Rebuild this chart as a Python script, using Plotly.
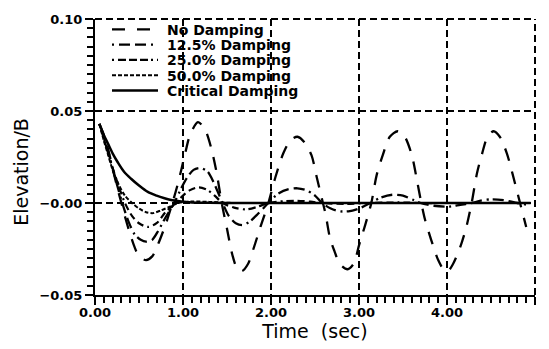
import plotly.graph_objects as go

# ---- data ----
t_none = [0.05, 0.10, 0.15, 0.20, 0.25, 0.30, 0.35, 0.40, 0.45, 0.50, 0.58, 0.65, 0.72, 0.80, 0.88,
          0.95, 1.02, 1.08, 1.17, 1.25, 1.32, 1.38, 1.44, 1.50, 1.56, 1.61, 1.67, 1.74, 1.80, 1.88,
          1.97, 2.05, 2.14, 2.22, 2.30, 2.38, 2.46, 2.52, 2.58, 2.62, 2.67, 2.72, 2.78, 2.87, 2.94,
          3.00, 3.07, 3.14, 3.20, 3.27, 3.35, 3.44, 3.52, 3.60, 3.66, 3.70, 3.75, 3.82, 3.90, 3.96,
          4.01, 4.07, 4.15, 4.22, 4.28, 4.34, 4.40, 4.46, 4.53, 4.60, 4.68, 4.76, 4.83, 4.90]
y_none = [0.043, 0.037, 0.029, 0.019, 0.009, 0.000, -0.009, -0.017, -0.024, -0.029, -0.031, -0.029, -0.022, -0.012, 0.000,
          0.012, 0.026, 0.037, 0.044, 0.040, 0.030, 0.017, 0.000, -0.014, -0.028, -0.035, -0.037, -0.033, -0.025, -0.013,
          0.000, 0.014, 0.027, 0.034, 0.036, 0.033, 0.026, 0.014, 0.002, -0.006, -0.019, -0.026, -0.033, -0.036, -0.033,
          -0.023, -0.012, 0.000, 0.015, 0.026, 0.036, 0.039, 0.036, 0.026, 0.012, 0.002, -0.009, -0.020, -0.031, -0.036,
          -0.037, -0.033, -0.024, -0.013, 0.000, 0.016, 0.027, 0.036, 0.039, 0.036, 0.027, 0.013, 0.000, -0.013]

t_125 = [0.05, 0.10, 0.15, 0.20, 0.25, 0.31, 0.38, 0.45, 0.52, 0.58, 0.65, 0.72, 0.80, 0.90, 0.98,
         1.05, 1.12, 1.20, 1.28, 1.35, 1.45, 1.52, 1.60, 1.68, 1.76, 1.85, 1.97, 2.08, 2.20, 2.30,
         2.40, 2.50, 2.58, 2.68, 2.78, 2.88, 3.00, 3.13, 3.25, 3.38, 3.50, 3.60, 3.70, 3.85, 4.00,
         4.15, 4.28, 4.40, 4.52, 4.65, 4.80, 4.92]
y_125 = [0.043, 0.036, 0.028, 0.019, 0.010, 0.000, -0.010, -0.017, -0.020, -0.021, -0.020, -0.015, -0.008, 0.000, 0.008,
         0.014, 0.018, 0.019, 0.017, 0.011, 0.000, -0.007, -0.011, -0.012, -0.010, -0.006, 0.000, 0.005, 0.0075, 0.008,
         0.007, 0.004, 0.000, -0.003, -0.0045, -0.0045, -0.003, 0.000, 0.003, 0.0045, 0.004, 0.002, 0.000, -0.0015, -0.002,
         -0.001, 0.000, 0.0015, 0.002, 0.0015, 0.000, -0.001]

t_25 = [0.05, 0.10, 0.15, 0.20, 0.27, 0.34, 0.42, 0.50, 0.60, 0.70, 0.80, 0.92, 1.00, 1.08, 1.18,
        1.28, 1.36, 1.45, 1.58, 1.72, 1.85, 1.97, 2.15, 2.30, 2.45, 2.58, 2.85, 3.13, 3.45, 3.70,
        4.00, 4.50, 4.92]
y_25 = [0.043, 0.035, 0.027, 0.019, 0.009, 0.000, -0.007, -0.011, -0.013, -0.011, -0.005, 0.000, 0.004, 0.007, 0.0085,
        0.007, 0.004, 0.000, -0.0025, -0.0035, -0.002, 0.000, 0.001, 0.0012, 0.0007, 0.000, -0.0005, 0.000, 0.0003, 0.000,
        0.000, 0.000, 0.000]

t_50 = [0.05, 0.10, 0.15, 0.20, 0.27, 0.34, 0.42, 0.50, 0.58, 0.66, 0.75, 0.85, 0.95, 1.10, 1.30,
        1.60, 2.00, 3.00, 4.00, 4.92]
y_50 = [0.043, 0.034, 0.026, 0.018, 0.010, 0.004, 0.000, -0.003, -0.005, -0.0055, -0.004, -0.002, 0.000, 0.0008, 0.0006,
        0.000, 0.000, 0.000, 0.000, 0.000]

t_crit = [0.05, 0.10, 0.15, 0.20, 0.26, 0.33, 0.41, 0.50, 0.60, 0.70, 0.79, 0.88, 0.98, 1.10, 1.30,
          1.60, 2.50, 3.50, 4.50, 4.95]
y_crit = [0.043, 0.037, 0.032, 0.027, 0.022, 0.017, 0.0132, 0.0095, 0.006, 0.004, 0.0026, 0.0015, 0.0008, 0.0003, 0.0001,
          0.000, 0.000, 0.000, 0.000, 0.000]

series_names = ["No Damping", "12.5% Damping", "25.0% Damping", "50.0% Damping", "Critical Damping"]

x_tickvals = [0, 1, 2, 3, 4, 5]
x_ticktext = ["0.00", "1.00", "2.00", "3.00", "4.00", "5.00"]
y_tickvals = [-0.05, 0.0, 0.05, 0.10]
y_ticktext = ["\u22120.05", "\u22120.00", "0.05", "0.10"]

# ---- styling ----
dashes = ["13px,11px",
          "2px,4px,11px,5px,11px,5px",
          "2px,4px,7px,4px,7px,4px,7px,4px",
          "4px,2px",
          "solid"]
legend_dashes = ["13px,12px",
                 "2px,5px,11px,5px,11px,5px",
                 "2px,4px,8px,3px,8px,3px,8px,3px",
                 "4px,2px",
                 "solid"]
widths = [2.3, 2.3, 2.2, 2.0, 2.5]

# plot area in pixels (for placing the hand-made legend)
PL, PR, PT, PB = 95, 535, 15, 295
def px_x(p):
    return (p - PL) / (PR - PL)
def px_y(p):
    return (PB - p) / (PB - PT)

fig = go.Figure()
for name, t, y, d, w in zip(series_names,
                            [t_none, t_125, t_25, t_50, t_crit],
                            [y_none, y_125, y_25, y_50, y_crit],
                            dashes, widths):
    fig.add_trace(go.Scatter(x=t, y=y, mode="lines", name=name, showlegend=False,
                             line=dict(color="black", width=w, dash=d, shape="spline", smoothing=0.8)))

shapes = [
    # dashed frame on top (0.10) and right (5.00), same style as the grid
    dict(type="line", xref="paper", yref="paper", x0=0, x1=1, y0=1, y1=1,
         line=dict(color="black", width=2, dash="7px,4px")),
    dict(type="line", xref="paper", yref="paper", x0=1, x1=1, y0=0, y1=1,
         line=dict(color="black", width=2, dash="7px,4px")),
]
annotations = []
row_py = [25.5, 41.0, 56.5, 72.0, 87.5]
for name, d, w, py in zip(series_names, legend_dashes, widths, row_py):
    shapes.append(dict(type="line", xref="paper", yref="paper",
                       x0=px_x(112), x1=px_x(158), y0=px_y(py), y1=px_y(py),
                       line=dict(color="black", width=w, dash=d)))
    annotations.append(dict(text=name, xref="paper", yref="paper", x=px_x(165), y=px_y(py + 0.5),
                            xanchor="left", yanchor="middle", showarrow=False,
                            font=dict(family="DejaVu Sans", size=14, color="black", weight="bold")))

annotations.append(dict(text="Elevation/B", xref="paper", yref="paper", x=px_x(21), y=px_y(170),
                        xanchor="center", yanchor="middle", textangle=-90, showarrow=False,
                        font=dict(family="DejaVu Sans", size=19, color="black")))

tickfont = dict(family="DejaVu Sans", size=13, color="black", weight="bold")

fig.update_layout(
    width=549, height=349,
    margin=dict(l=PL, r=549 - PR, t=PT, b=349 - PB),
    paper_bgcolor="white", plot_bgcolor="white",
    showlegend=False,
    shapes=shapes,
    annotations=annotations,
)

fig.update_xaxes(
    range=[0, 5], tickvals=x_tickvals, ticktext=x_ticktext, tickfont=tickfont,
    showline=True, linecolor="black", linewidth=2,
    ticks="outside", ticklen=8, tickwidth=2, tickcolor="black", ticklabelstandoff=-4,
    showgrid=True, gridcolor="black", gridwidth=2, griddash="7px,4px",
    zeroline=False,
    minor=dict(dtick=0.1, tick0=0, ticks="outside", ticklen=6, tickwidth=1.6, tickcolor="black", showgrid=False),
    title=dict(text="Time  (sec)", font=dict(family="DejaVu Sans", size=19, color="black"), standoff=4),
)
fig.update_yaxes(
    range=[-0.05, 0.10], tickvals=y_tickvals, ticktext=y_ticktext, tickfont=tickfont,
    showline=True, linecolor="black", linewidth=2,
    ticks="outside", ticklen=8, tickwidth=2, tickcolor="black",
    showgrid=True, gridcolor="black", gridwidth=2, griddash="7px,4px",
    zeroline=False,
    minor=dict(dtick=0.005, tick0=0, ticks="outside", ticklen=6, tickwidth=1.6, tickcolor="black", showgrid=False),
)

fig.write_html("out.html")
